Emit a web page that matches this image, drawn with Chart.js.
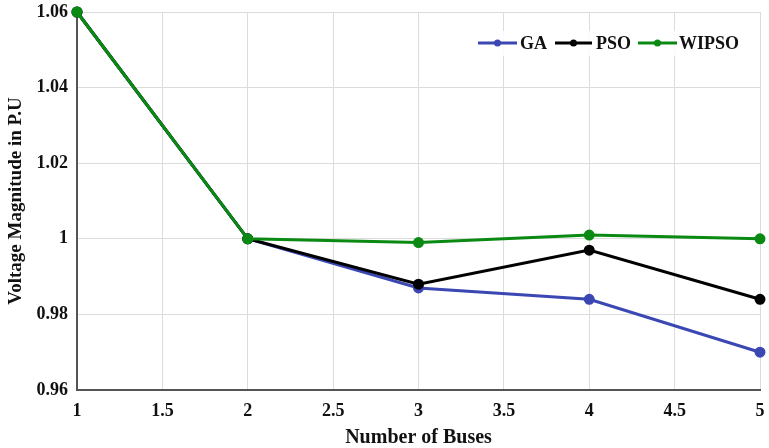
<!DOCTYPE html>
<html>
<head>
<meta charset="utf-8">
<script src="https://cdn.jsdelivr.net/npm/chart.js@4"></script>
<style>
html,body{margin:0;padding:0;background:#fff;}
#wrap{width:769px;height:448px;position:relative;}
</style>
</head>
<body>
<div id="wrap"><canvas id="c" width="769" height="448"></canvas></div>
<script>
const buses = [1, 2, 3, 4, 5];
const gaValues = [1.06, 1.0, 0.987, 0.984, 0.970];
const psoValues = [1.06, 1.0, 0.988, 0.997, 0.984];
const wipsoValues = [1.06, 1.0, 0.999, 1.001, 1.0];
const seriesNames = ['GA', 'PSO', 'WIPSO'];
const xTicks = [1, 1.5, 2, 2.5, 3, 3.5, 4, 4.5, 5];
const yTicks = [0.96, 0.98, 1, 1.02, 1.04, 1.06];

const colors = ['#3b47b3', '#000000', '#0a8a12'];
const toPts = v => buses.map((b, i) => ({x: b, y: v[i]}));
const FONT = '"Liberation Serif", "Times New Roman", serif';

const legendPlugin = {
  id: 'customLegend',
  afterDatasetsDraw(chart) {
    const ctx = chart.ctx;
    ctx.save();
    ctx.fillStyle = 'rgba(255,255,255,0.85)';
    ctx.fillRect(470, 31, 278, 25);
    const items = [
      {x: 478, len: 39, tx: 520},
      {x: 555, len: 37, tx: 596},
      {x: 638, len: 39, tx: 679}
    ];
    const y = 43;
    ctx.font = 'bold 18px ' + FONT;
    ctx.textBaseline = 'middle';
    seriesNames.forEach((name, i) => {
      const it = items[i];
      ctx.strokeStyle = colors[i];
      ctx.lineWidth = 3;
      ctx.beginPath();
      ctx.moveTo(it.x, y);
      ctx.lineTo(it.x + it.len, y);
      ctx.stroke();
      ctx.fillStyle = colors[i];
      ctx.beginPath();
      ctx.arc(it.x + it.len / 2, y, 3.5, 0, Math.PI * 2);
      ctx.fill();
      ctx.fillStyle = '#111';
      ctx.fillText(name, it.tx, y + 1);
    });
    ctx.restore();
  }
};

new Chart(document.getElementById('c'), {
  type: 'line',
  data: {
    datasets: [
      {label: seriesNames[0], data: toPts(gaValues), borderColor: colors[0], backgroundColor: colors[0], order: 3},
      {label: seriesNames[1], data: toPts(psoValues), borderColor: colors[1], backgroundColor: colors[1], order: 2},
      {label: seriesNames[2], data: toPts(wipsoValues), borderColor: colors[2], backgroundColor: colors[2], order: 1}
    ].map(d => Object.assign(d, {borderWidth: 3, pointRadius: 4, pointHoverRadius: 4, tension: 0, clip: false}))
  },
  options: {
    responsive: false,
    animation: false,
    devicePixelRatio: 1,
    layout: {padding: {top: 12, right: 9, left: 0, bottom: 0}},
    plugins: {legend: {display: false}, tooltip: {enabled: false}},
    scales: {
      x: {
        type: 'linear',
        min: 1, max: 5,
        afterBuildTicks: s => { s.ticks = xTicks.map(v => ({value: v})); },
        afterFit: s => { s.height = 58; s.paddingLeft = 0; s.paddingRight = 0; },
        grid: {color: '#dcdcdc', lineWidth: 1, drawTicks: false},
        border: {display: true, color: '#555', width: 2},
        ticks: {color: '#111', font: {family: FONT, size: 18, weight: 'bold'}, padding: 11, maxRotation: 0,
          callback: v => String(v)},
        title: {display: true, text: 'Number of Buses', color: '#111', font: {family: FONT, size: 20, weight: 'bold', lineHeight: 1.0}, padding: {top: 0, bottom: 0}}
      },
      y: {
        type: 'linear',
        min: 0.96, max: 1.06,
        afterBuildTicks: s => { s.ticks = yTicks.map(v => ({value: v})); },
        afterFit: s => { s.width = 77; s.paddingTop = 0; s.paddingBottom = 0; },
        grid: {color: '#dcdcdc', lineWidth: 1, drawTicks: false},
        border: {display: true, color: '#555', width: 2},
        ticks: {color: '#111', font: {family: FONT, size: 18, weight: 'bold'}, padding: 9,
          callback: v => String(parseFloat(v.toFixed(2)))},
        title: {display: true, text: 'Voltage Magnitude in P.U', color: '#111', font: {family: FONT, size: 19, weight: 'bold'}, padding: {top: 5, bottom: 0}}
      }
    }
  },
  plugins: [legendPlugin]
});
</script>
</body>
</html>
